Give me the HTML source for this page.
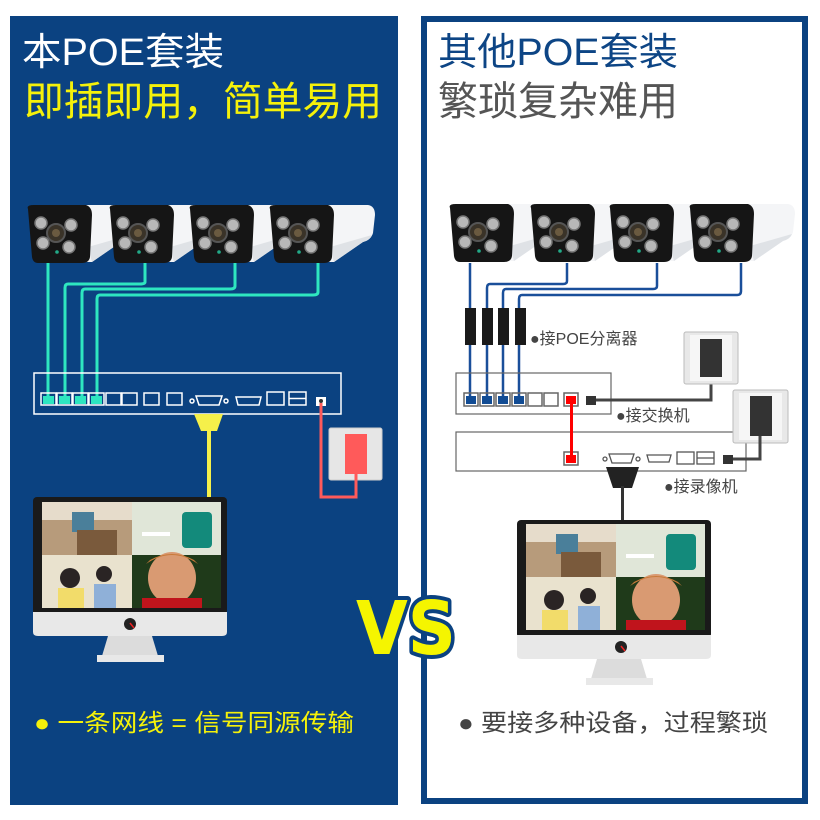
<!DOCTYPE html>
<html><head><meta charset="utf-8"><style>
html,body{margin:0;padding:0;background:#fff;}
svg{display:block;}
text{font-family:"Liberation Sans","Noto Sans CJK SC",sans-serif;}
</style></head><body>
<svg width="820" height="820" viewBox="0 0 820 820" xmlns="http://www.w3.org/2000/svg">
<defs>
<g id="cam">
  <path d="M55,0 L100,0 Q107,1 107,10 L105,28 Q103,35 95,37 L66,57 L55,57 Z" fill="#f4f5f7"/>
  <path d="M62,42 L104,30 Q102,35 95,37 L66,57 Z" fill="#dfe2e6"/>
  <path d="M2,4 Q0,0 8,0 L60,0 Q66,2 66,10 L64,52 Q63,58 56,58 L12,58 Q7,58 6,52 Z" fill="#151515"/>
  <circle cx="30" cy="28" r="9" fill="#3a3328" stroke="#555" stroke-width="2"/>
  <circle cx="30" cy="28" r="4" fill="#6a5a40"/>
  <circle cx="15" cy="18" r="6" fill="#b8b8b8" stroke="#777" stroke-width="1.5"/>
  <circle cx="45" cy="20" r="6" fill="#b8b8b8" stroke="#777" stroke-width="1.5"/>
  <circle cx="17" cy="38" r="6" fill="#b8b8b8" stroke="#777" stroke-width="1.5"/>
  <circle cx="43" cy="42" r="6" fill="#b8b8b8" stroke="#777" stroke-width="1.5"/>
  <circle cx="31" cy="47" r="1.8" fill="#2a8"/>
</g>
<g id="screen">
  <rect x="0" y="0" width="90" height="53" fill="#b79b7b"/>
  <rect x="0" y="0" width="90" height="18" fill="#e6dccb"/>
  <rect x="30" y="10" width="22" height="20" fill="#4a7f9a"/>
  <rect x="35" y="28" width="40" height="25" fill="#7a5a3c"/>
  <rect x="90" y="0" width="89" height="53" fill="#e0e6d8"/>
  <rect x="140" y="10" width="30" height="36" rx="4" fill="#138a7b"/>
  <rect x="100" y="30" width="28" height="4" fill="#fff"/>
  <rect x="0" y="53" width="90" height="53" fill="#e9e2ce"/>
  <circle cx="28" cy="76" r="10" fill="#2a2424"/>
  <rect x="16" y="86" width="26" height="20" fill="#f2dc6a"/>
  <circle cx="62" cy="72" r="8" fill="#2a2424"/>
  <rect x="52" y="82" width="22" height="24" fill="#8fb0d8"/>
  <rect x="90" y="53" width="89" height="53" fill="#1f3a1a"/>
  <ellipse cx="130" cy="76" rx="24" ry="26" fill="#d99a72"/>
  <path d="M104,62 Q130,44 156,62 L152,58 Q130,46 108,58 Z" fill="#c87a3a"/>
  <rect x="100" y="96" width="60" height="10" fill="#c0141c"/>
</g>
</defs>

<rect x="10" y="16" width="388" height="789" fill="#0b4281"/>
<rect x="424" y="19" width="381" height="782" fill="#fff" stroke="#0b4281" stroke-width="6"/>

<text x="22" y="65" font-size="38" fill="#fff" textLength="202" lengthAdjust="spacingAndGlyphs">本POE套装</text>
<text x="24" y="115" font-size="40" fill="#f5f10a" textLength="358" lengthAdjust="spacingAndGlyphs">即插即用，简单易用</text>
<text x="438" y="65" font-size="38" fill="#0d4585" textLength="240" lengthAdjust="spacingAndGlyphs">其他POE套装</text>
<text x="438" y="115" font-size="40" fill="#555" textLength="240" lengthAdjust="spacingAndGlyphs">繁琐复杂难用</text>

<use href="#cam" x="26" y="205"/>
<use href="#cam" x="108" y="205"/>
<use href="#cam" x="188" y="205"/>
<use href="#cam" x="268" y="205"/>

<g fill="none" stroke="#2ee6c0" stroke-width="3" stroke-linejoin="round">
  <path d="M48,263 V398"/>
  <path d="M145,263 V282 Q145,284 140,284 H68 Q65,284 65,288 V398"/>
  <path d="M235,263 V286 Q235,289 230,289 H85 Q82,289 82,293 V398"/>
  <path d="M318,263 V292 Q318,295 313,295 H100 Q97,295 97,299 V398"/>
</g>
<rect x="34" y="373" width="307" height="41" fill="none" stroke="#fff" stroke-width="1.5"/>
<g fill="none" stroke="#fff" stroke-width="1.5">
  <rect x="41" y="393" width="15" height="12"/><rect x="57" y="393" width="15" height="12"/>
  <rect x="73" y="393" width="15" height="12"/><rect x="89" y="393" width="15" height="12"/>
  <rect x="106" y="393" width="15" height="12"/><rect x="122" y="393" width="15" height="12"/>
  <rect x="144" y="393" width="15" height="12"/><rect x="167" y="393" width="15" height="12"/>
  <path d="M196,396 H222 L219,405 H199 Z"/><circle cx="192" cy="401" r="2"/><circle cx="226" cy="401" r="2"/>
  <path d="M236,397 H261 L259,405 H238 Z"/>
  <rect x="267" y="392" width="17" height="13"/><rect x="289" y="392" width="17" height="13"/><path d="M289,398.5 H306"/>
</g>
<g fill="#2ee6c0">
  <rect x="43" y="396" width="11" height="8"/><rect x="59" y="396" width="11" height="8"/>
  <rect x="75" y="396" width="11" height="8"/><rect x="91" y="396" width="11" height="8"/>
</g>
<rect x="316" y="397" width="10" height="9" fill="#fff"/><circle cx="321" cy="401" r="2" fill="#333"/>
<path d="M194,414 H223 L217,431 H201 Z" fill="#f5f04a"/>
<rect x="207" y="430" width="4" height="68" fill="#f5f04a"/>
<rect x="329" y="428" width="53" height="52" rx="2" fill="#e6e6e6" stroke="#ccc"/>
<rect x="345" y="434" width="22" height="40" fill="#ff5a5a"/>
<path d="M321,403 V497 H356 V474" fill="none" stroke="#ff5a5a" stroke-width="3"/>

<rect x="33" y="497" width="194" height="118" rx="4" fill="#1a1a1a"/>
<use href="#screen" x="42" y="502"/>
<path d="M33,612 H227 V632 Q227,636 222,636 H38 Q33,636 33,632 Z" fill="#e8e8e8"/>
<circle cx="130" cy="624" r="6" fill="#222"/><path d="M130,623 L134,628" stroke="#e22" stroke-width="1.5"/>
<path d="M108,636 H152 L158,656 H102 Z" fill="#dcdcdc"/>
<rect x="97" y="655" width="67" height="7" fill="#e8e8e8"/>

<text x="34" y="731" font-size="24" fill="#f5f10a" textLength="320" lengthAdjust="spacingAndGlyphs">● 一条网线 = 信号同源传输</text>

<use href="#cam" x="448" y="204"/>
<use href="#cam" x="529" y="204"/>
<use href="#cam" x="608" y="204"/>
<use href="#cam" x="688" y="204"/>

<g fill="none" stroke="#1a4f9a" stroke-width="2.5" stroke-linejoin="round">
  <path d="M470,263 V400"/>
  <path d="M567,263 V281 Q567,284 563,284 H490 Q487,284 487,288 V400"/>
  <path d="M657,263 V286 Q657,289 653,289 H506 Q503,289 503,293 V400"/>
  <path d="M741,263 V291 Q741,295 737,295 H522 Q519,295 519,299 V400"/>
</g>
<g fill="#1a1a1a">
  <rect x="465" y="308" width="11" height="37"/><rect x="482" y="308" width="11" height="37"/>
  <rect x="498" y="308" width="11" height="37"/><rect x="515" y="308" width="11" height="37"/>
</g>
<text x="530" y="344" font-size="16" fill="#444">●接POE分离器</text>

<rect x="456" y="373" width="155" height="41" fill="none" stroke="#666" stroke-width="1.2"/>
<g fill="none" stroke="#666" stroke-width="1.5">
  <rect x="464" y="393" width="14" height="13"/><rect x="480" y="393" width="14" height="13"/>
  <rect x="496" y="393" width="14" height="13"/><rect x="512" y="393" width="14" height="13"/>
  <rect x="528" y="393" width="14" height="13"/><rect x="544" y="393" width="14" height="13"/>
  <rect x="564" y="393" width="14" height="13"/>
</g>
<g fill="#124c94">
  <rect x="466" y="396" width="10" height="8"/><rect x="482" y="396" width="10" height="8"/>
  <rect x="498" y="396" width="10" height="8"/><rect x="514" y="396" width="10" height="8"/>
</g>
<rect x="566" y="396" width="10" height="8" fill="#f00"/>
<rect x="586" y="396" width="10" height="9" fill="#333"/>
<path d="M596,400 H711 V375" fill="none" stroke="#444" stroke-width="3"/>
<rect x="684" y="332" width="54" height="52" rx="2" fill="#e8e8e8" stroke="#bbb"/>
<rect x="690" y="335" width="42" height="46" fill="#f6f6f6"/>
<rect x="700" y="339" width="22" height="38" fill="#333"/>
<text x="616" y="421" font-size="16" fill="#444">●接交换机</text>

<rect x="456" y="432" width="290" height="39" fill="none" stroke="#666" stroke-width="1.2"/>
<rect x="733" y="390" width="55" height="53" rx="2" fill="#e8e8e8" stroke="#bbb"/>
<rect x="739" y="393" width="43" height="47" fill="#f6f6f6"/>
<rect x="750" y="396" width="22" height="40" fill="#333"/>
<rect x="564" y="452" width="14" height="13" fill="none" stroke="#666" stroke-width="1.5"/>
<rect x="566" y="455" width="10" height="8" fill="#f00"/>
<rect x="570" y="400" width="3" height="58" fill="#f00"/>
<g fill="none" stroke="#555" stroke-width="1.3">
  <path d="M609,454 H634 L631,463 H612 Z"/><circle cx="605" cy="459" r="2"/><circle cx="638" cy="459" r="2"/>
  <path d="M647,455 H671 L669,462 H649 Z"/>
  <rect x="677" y="452" width="17" height="12"/><rect x="697" y="452" width="17" height="12"/><path d="M697,458 H714"/>
</g>
<rect x="723" y="455" width="10" height="9" fill="#333"/>
<path d="M733,459 H760 V436" fill="none" stroke="#444" stroke-width="3"/>
<path d="M606,467 H639 L632,488 H613 Z" fill="#222"/>
<rect x="621" y="486" width="3" height="36" fill="#333"/>
<text x="664" y="492" font-size="16" fill="#444">●接录像机</text>

<rect x="517" y="520" width="194" height="118" rx="4" fill="#1a1a1a"/>
<use href="#screen" x="526" y="524"/>
<path d="M517,635 H711 V655 Q711,659 706,659 H522 Q517,659 517,655 Z" fill="#e8e8e8"/>
<circle cx="621" cy="647" r="6" fill="#222"/><path d="M621,646 L625,651" stroke="#e22" stroke-width="1.5"/>
<path d="M597,659 H641 L647,679 H591 Z" fill="#dcdcdc"/>
<rect x="586" y="678" width="67" height="7" fill="#e8e8e8"/>

<text x="458" y="731" font-size="24" fill="#444" textLength="310" lengthAdjust="spacingAndGlyphs">● 要接多种设备，过程繁琐</text>

<text x="356" y="654" font-size="74" font-weight="bold" fill="#f5f500" stroke="#0b4281" stroke-width="8" paint-order="stroke" stroke-linejoin="round" style="font-family:'DejaVu Sans',sans-serif" textLength="100" lengthAdjust="spacingAndGlyphs">VS</text>
</svg>
</body></html>
